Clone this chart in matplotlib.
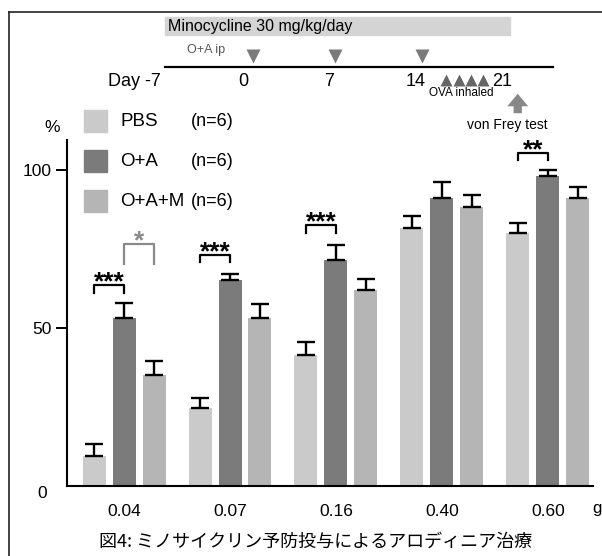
import matplotlib.pyplot as plt
import numpy as np
from matplotlib.patches import Rectangle

plt.rcParams['font.family'] = ['Liberation Sans', 'DejaVu Sans']

# data
doses = ['0.04', '0.07', '0.16', '0.40', '0.60']
groups = ['PBS', 'O+A', 'O+A+M']
n_labels = ['(n=6)', '(n=6)', '(n=6)']
pbs = [9.5, 24.7, 41.5, 81.6, 80.0]
pbs_err = [3.8, 3.1, 4.1, 3.8, 3.2]
oa = [53.2, 65.2, 71.5, 91.1, 98.1]
oa_err = [4.8, 1.8, 4.8, 5.1, 1.9]
oam = [35.2, 53.2, 62.0, 88.3, 91.1]
oam_err = [4.4, 4.4, 3.5, 3.8, 3.5]
colors = ['#cacaca', '#7b7b7b', '#b5b5b5']

# significance brackets: dose index, bar a, bar b, height, leg, label, colour
sig = [(0, 0, 1, 63.6, 2.5, '***', 'k'),
       (0, 1, 2, 76.6, 6.5, '*', '#8a8a8a'),
       (1, 0, 1, 73.1, 2.3, '***', 'k'),
       (2, 0, 1, 82.6, 2.5, '***', 'k'),
       (4, 0, 1, 105.4, 2.2, '**', 'k')]

# protocol timeline (days)
timeline_days = [-7, 0, 7, 14, 21]
oa_ip_days = [0.8, 7.5, 14.5]
ova_days = [16.5, 17.5, 18.5, 19.5]
frey_day = 22.3
mino_days = (-6.3, 21.7)

title = '図4: ミノサイクリン予防投与によるアロディニア治療'

fig = plt.figure(figsize=(6.02, 5.56), dpi=100)

ax = fig.add_axes([67/602, 1-486/556, 526/602, 346/556])
x = np.arange(len(doses))
w = 0.217
step = 0.283
series = [(pbs, pbs_err), (oa, oa_err), (oam, oam_err)]
for i, (vals, errs) in enumerate(series):
    ax.bar(x + (i-1)*step, vals, w, color=colors[i], zorder=2,
           yerr=[np.zeros(len(errs)), errs], capsize=6.5,
           error_kw=dict(elinewidth=1.7, capthick=1.7, ecolor='k'))

for d, a, b, h, leg, lab, c in sig:
    xa = d + (a-1)*step
    xb = d + (b-1)*step
    ax.plot([xa, xa, xb, xb], [h-leg, h, h, h-leg], color=c, lw=1.6)
    ax.text((xa+xb)/2, h-1.4, lab, ha='center', va='baseline', fontsize=19,
            fontweight='bold', color=c)

ax.set_xlim(-0.538, 4.425)
ax.set_ylim(0, 109.5)
ax.set_yticks([50, 100])
ax.tick_params(axis='y', direction='out', length=8, width=1.4, labelsize=12.5, pad=3)
ax.set_xticks(x, doses)
ax.tick_params(axis='x', length=0, pad=13, labelsize=12.5)
for s in ['top', 'right']:
    ax.spines[s].set_visible(False)
for s in ['left', 'bottom']:
    ax.spines[s].set_linewidth(1.5)

# overlay in pixel coordinates for the frame, legend and timeline
ov = fig.add_axes([0, 0, 1, 1])
ov.set_xlim(0, 602)
ov.set_ylim(556, 0)
ov.axis('off')

def dpx(d):
    return 243 + 12.32*d

ov.plot([9, 9], [12, 556], color='#222222', lw=1.2)
ov.plot([9, 602], [12, 12], color='#222222', lw=1.2)

rows = [121, 161, 201]
for i in range(3):
    ov.add_patch(Rectangle((84, rows[i]-11), 23, 22, color=colors[i]))
    ov.text(120, rows[i], groups[i], va='center', fontsize=13.5)
    ov.text(191, rows[i], n_labels[i], va='center', fontsize=13)

ov.text(52, 128, '%', ha='center', va='center', fontsize=12.5)
ov.text(42, 494, '0', ha='center', va='center', fontsize=12.5)
ov.text(592, 508, 'g', ha='left', va='center', fontsize=12)

ov.add_patch(Rectangle((dpx(mino_days[0]), 17), dpx(mino_days[1])-dpx(mino_days[0]), 18,
                       color='#d4d4d4'))
ov.text(168, 26, 'Minocycline 30 mg/kg/day', va='center', fontsize=11.5)
ov.text(187, 50, 'O+A ip', va='center', fontsize=9, color='#555555')
ov.plot([dpx(-6.3), dpx(25.2)], [67, 67], color='k', lw=1.6)
ov.plot([dpx(d) for d in oa_ip_days], [56]*len(oa_ip_days), 'v', ms=10,
        color='#7a7a7a', mec='none')
ov.plot([dpx(d) for d in ova_days], [80]*len(ova_days), '^', ms=8,
        color='#666666', mec='none')
for d in timeline_days:
    if d == timeline_days[0]:
        ov.text(dpx(d)+4, 82, 'Day %d' % d, ha='right', va='center', fontsize=13)
    else:
        ov.text(dpx(d), 82, str(d), ha='center', va='center', fontsize=13)
ov.text(461, 93, 'OVA inhaled', ha='center', va='center', fontsize=8.5)
ov.annotate('', xy=(dpx(frey_day), 91), xytext=(dpx(frey_day), 116),
            arrowprops=dict(arrowstyle='simple,head_width=1.5,head_length=0.9,tail_width=0.6',
                            color='#888888', lw=0))
ov.text(507, 125, 'von Frey test', ha='center', va='center', fontsize=10)

ov.text(316, 542, title, ha='center', va='center', fontsize=13,
        family=['Noto Sans CJK JP', 'DejaVu Sans'])

fig.savefig('out.png', dpi=100)
